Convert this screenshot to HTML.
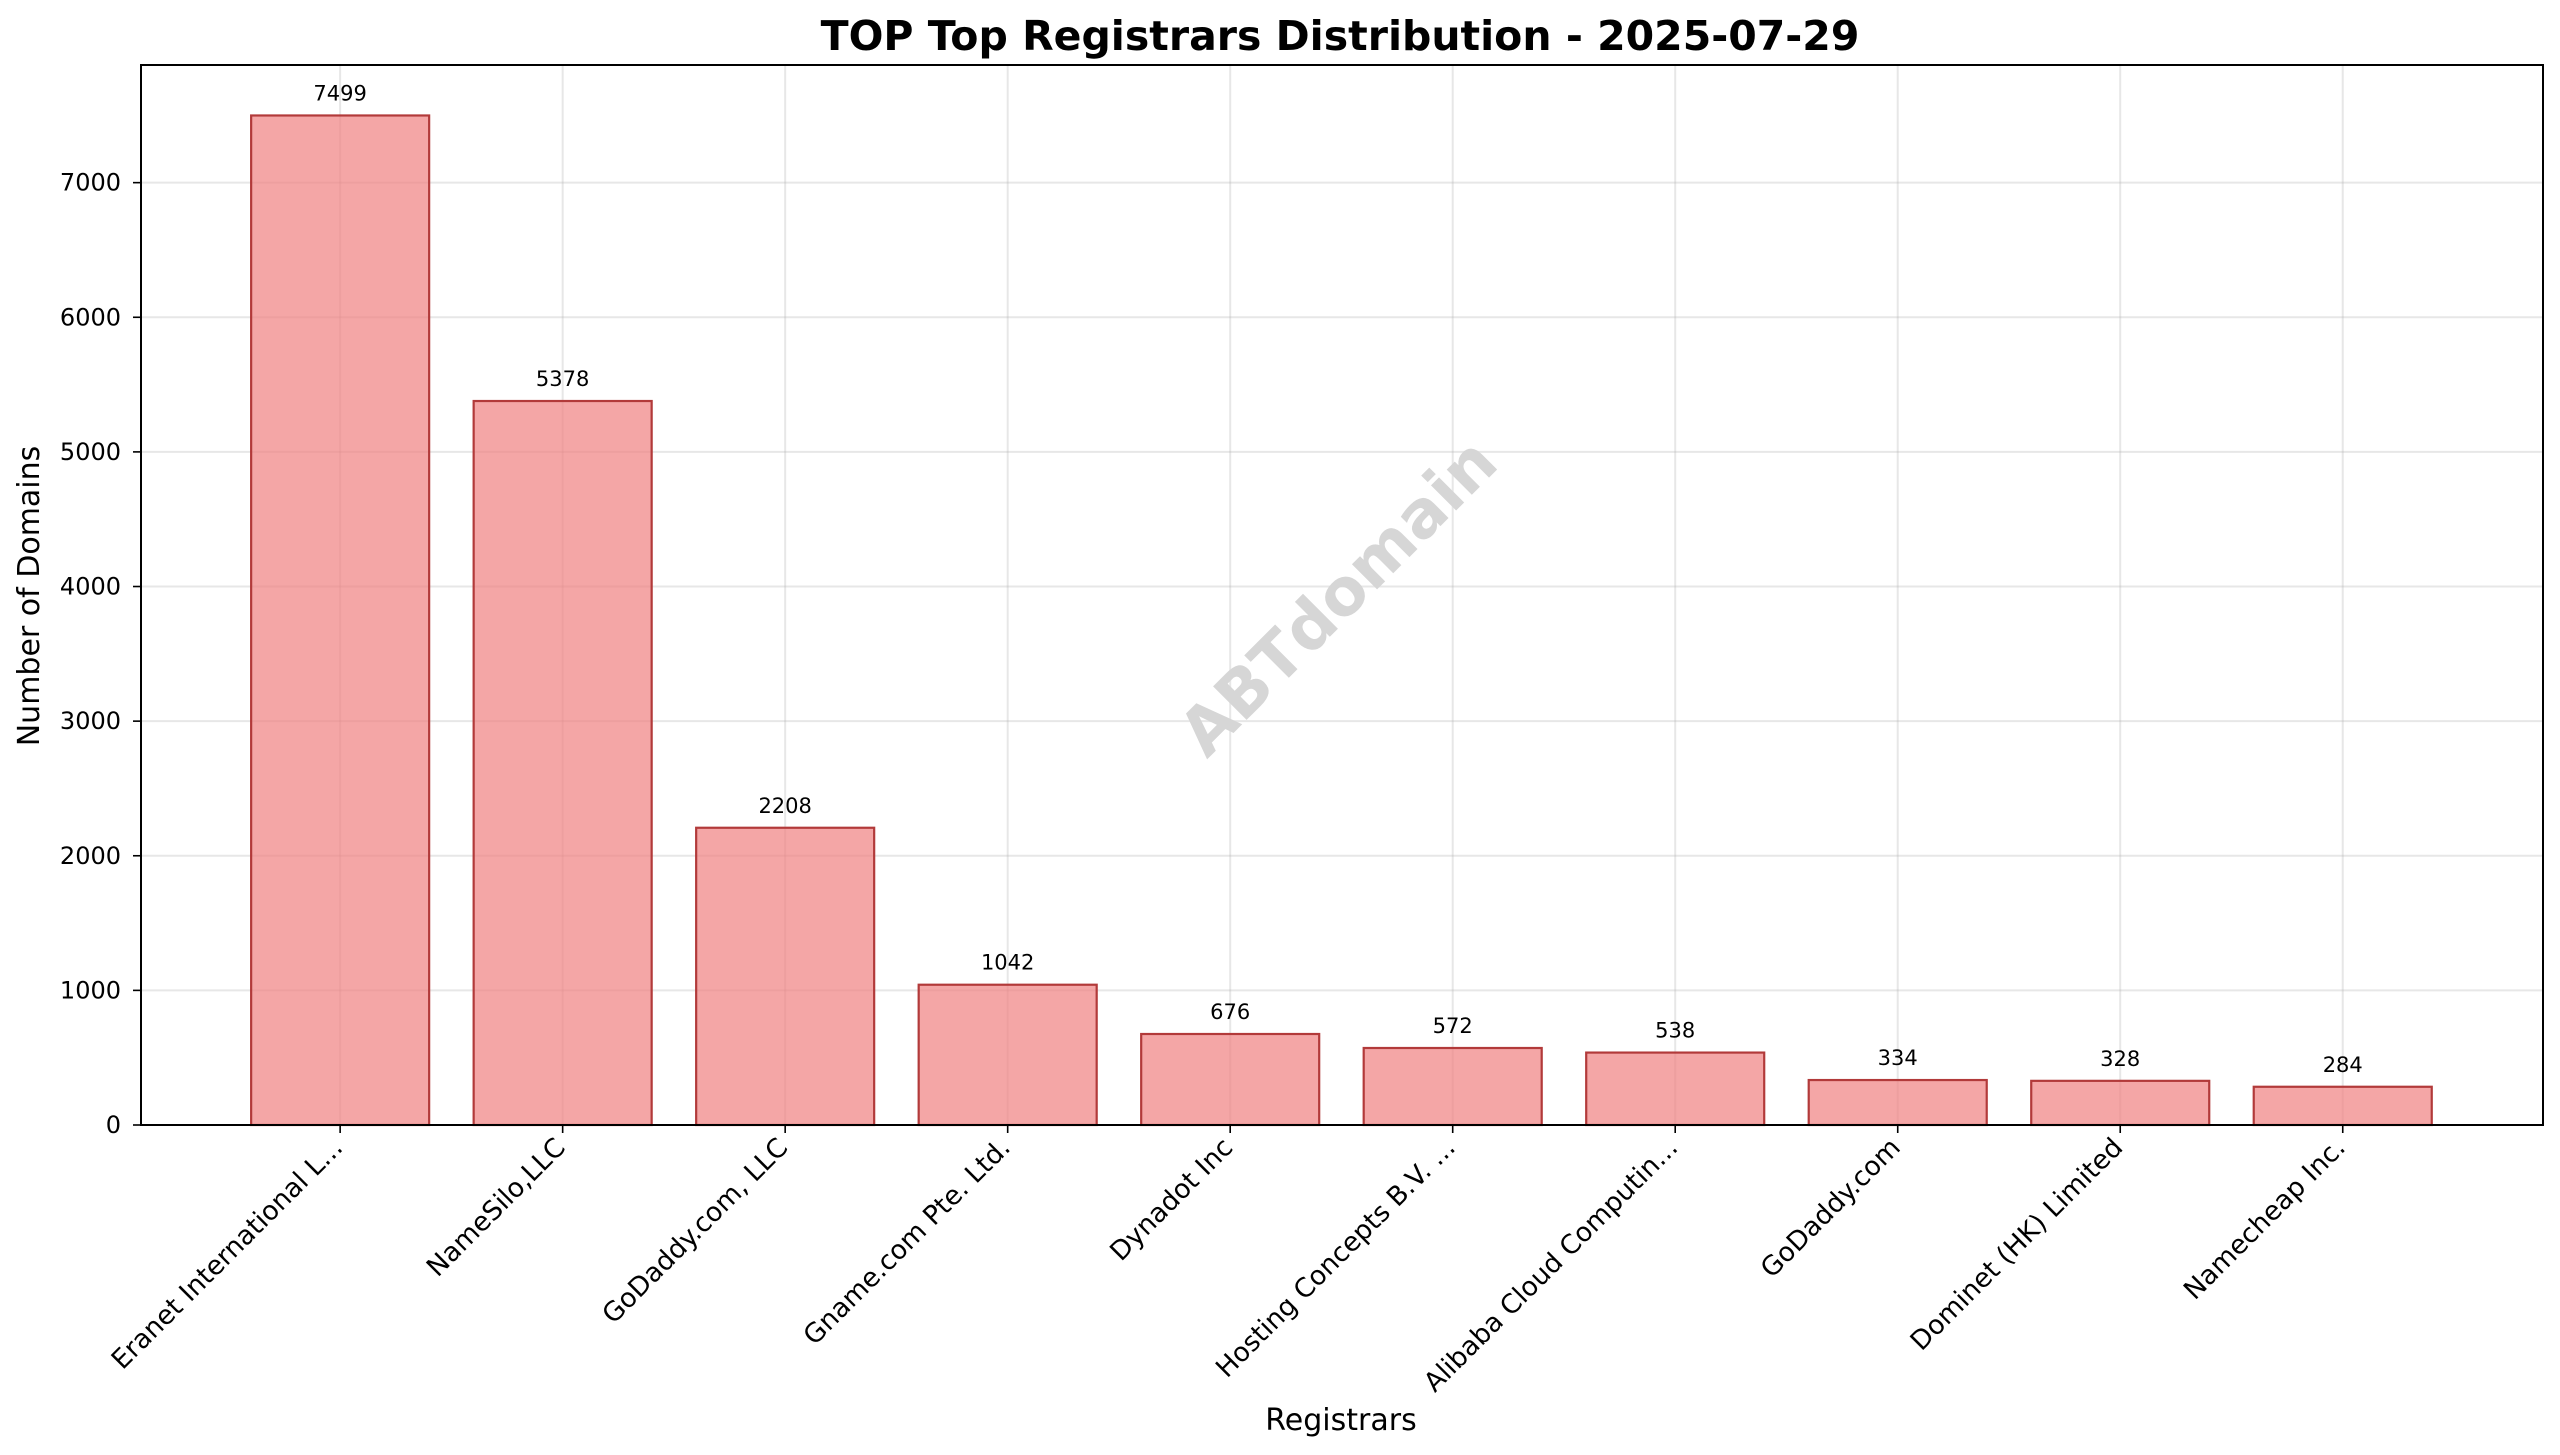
<!DOCTYPE html>
<html><head><meta charset="utf-8"><style>
html,body{margin:0;padding:0;background:#fff;}
svg{display:block;font-family:"DejaVu Sans","Liberation Sans",sans-serif;}
</style></head><body>
<svg id="chart" width="2560" height="1455" viewBox="0 0 2560 1455">
<text x="1340" y="50" text-anchor="middle" font-size="41" font-weight="bold" fill="#000">TOP Top Registrars Distribution - 2025-07-29</text>
<g id="grid"></g>
<text x="1341" y="600" text-anchor="middle" dominant-baseline="middle" font-size="65" font-weight="bold" fill="#d6d6d6" transform="rotate(-45 1341 600)">ABTdomain</text>
<g id="bars"></g>
<g id="axes"></g>
<text x="0" y="0" text-anchor="middle" font-size="30" fill="#000" transform="translate(39 596) rotate(-90)">Number of Domains</text>
<text x="1341" y="1430" text-anchor="middle" font-size="30" fill="#000">Registrars</text>
</svg>
<script>
const categories = ["Eranet International L...","NameSilo,LLC","GoDaddy.com, LLC","Gname.com Pte. Ltd.","Dynadot Inc","Hosting Concepts B.V. ...","Alibaba Cloud Computin...","GoDaddy.com","Dominet (HK) Limited","Namecheap Inc."];
const values = [7499,5378,2208,1042,676,572,538,334,328,284];
const yTicks = [0,1000,2000,3000,4000,5000,6000,7000];

const NS="http://www.w3.org/2000/svg";
const L=141, R=2543, T=65, B=1125;
const xMin=-0.895, xMax=9.9;
const yMax=Math.max(...values)*1.05;
function xs(i){return L+(i-xMin)/(xMax-xMin)*(R-L);}
function ys(v){return B-v/yMax*(B-T);}
function mk(tag,attrs,parent){const e=document.createElementNS(NS,tag);for(const k in attrs)e.setAttribute(k,attrs[k]);parent.appendChild(e);return e;}
const grid=document.getElementById('grid'), bars=document.getElementById('bars'), axes=document.getElementById('axes');
const bw=0.8*(xs(1)-xs(0));

yTicks.forEach(v=>{
  const y=ys(v);
  const g=mk('line',{x1:L,x2:R,y1:y,y2:y,stroke:'#b0b0b0','stroke-opacity':0.3,'stroke-width':2},grid);
  
  
  const t=mk('line',{x1:L-8,x2:L,y1:y,y2:y,stroke:'#000','stroke-width':1.6},axes);
  
  
  const lb=mk('text',{x:L-20,y:y+8,'text-anchor':'end','font-size':24,fill:'#000'},axes);
  lb.textContent=v;
  
  
});
categories.forEach((c,i)=>{
  const x=xs(i);
  const g=mk('line',{x1:x,x2:x,y1:T,y2:B,stroke:'#b0b0b0','stroke-opacity':0.3,'stroke-width':2},grid);
  
  
  const y=ys(values[i]);
  const r=mk('rect',{x:x-bw/2,y:y,width:bw,height:B-y,fill:'rgba(240,128,128,0.7)',stroke:'#b23a3a','stroke-width':2.2},bars);
  
  
  const vl=mk('text',{x:x,y:y-15,'text-anchor':'middle','font-size':21,fill:'#000'},bars);
  vl.textContent=values[i];
  
  
  const t=mk('line',{x1:x,x2:x,y1:B,y2:B+8,stroke:'#000','stroke-width':1.6},axes);
  
  
  const ax=x+4, ay=B+24;
  const lb=mk('text',{x:ax,y:ay,'text-anchor':'end','font-size':26.5,fill:'#000',transform:`rotate(-45 ${ax} ${ay})`},axes);
  lb.textContent=c;
  
  
});
const fr=mk('rect',{x:L,y:T,width:R-L,height:B-T,fill:'none',stroke:'#000','stroke-width':2},axes);


</script>
</body></html>
